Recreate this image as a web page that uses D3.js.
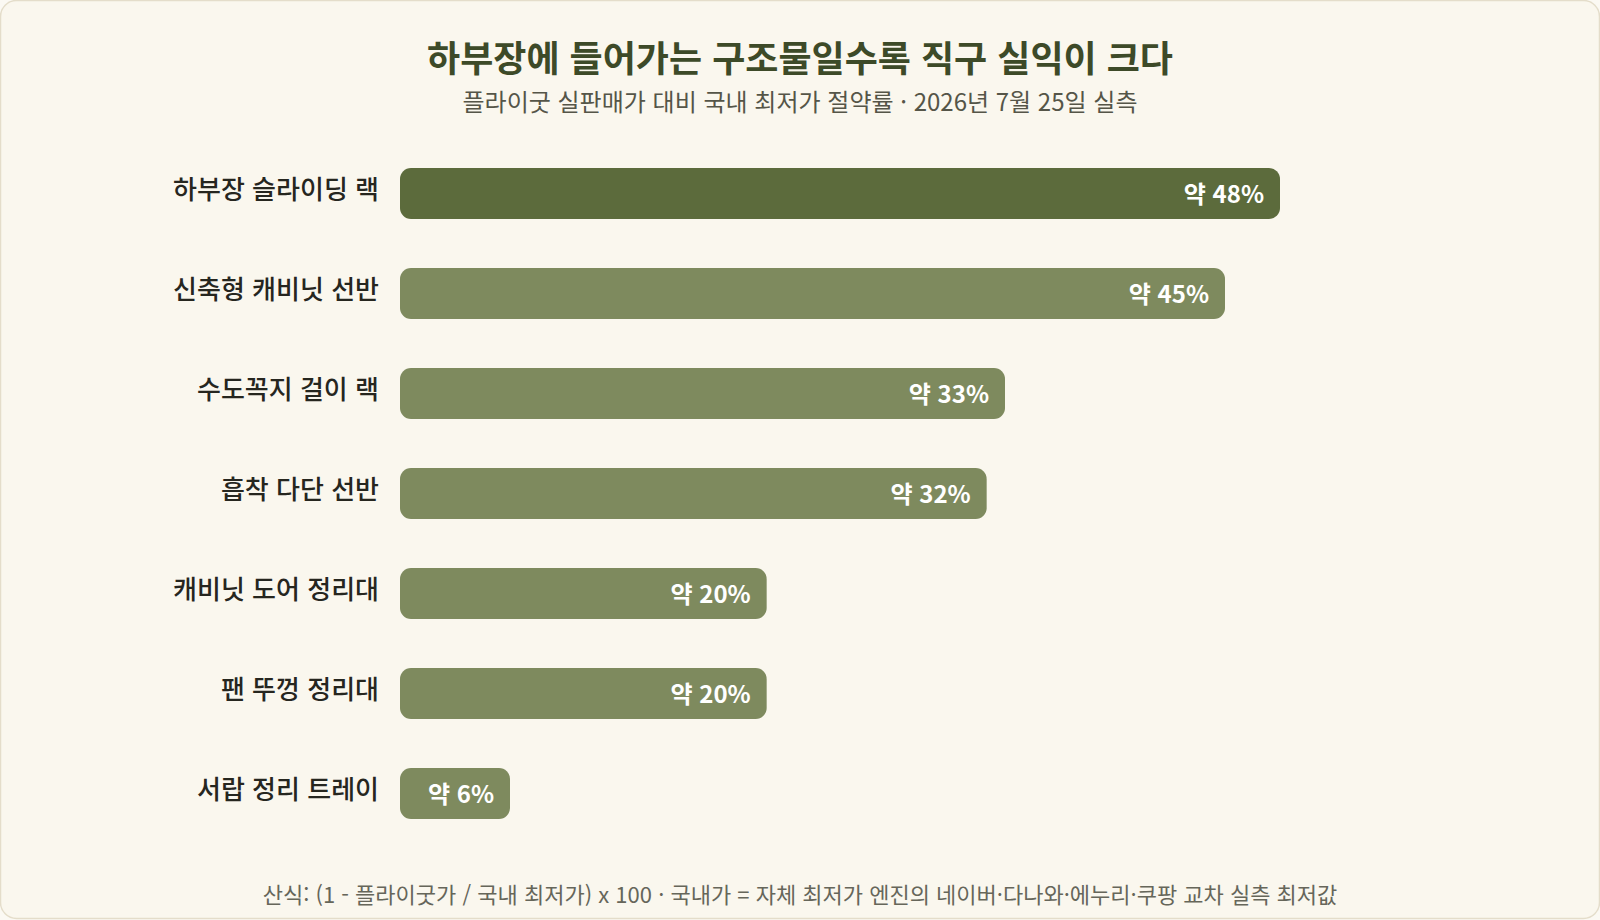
<!DOCTYPE html>
<html lang="ko">
<head>
<meta charset="utf-8">
<script src="https://cdn.jsdelivr.net/npm/d3@7"></script>
<style>
  html, body { margin: 0; padding: 0; background: #fbf9f3; }
  svg { display: block; font-family: "Noto Sans CJK KR", "Noto Sans", sans-serif; }
</style>
</head>
<body>
<script>
// data
var categories = ["하부장 슬라이딩 랙", "신축형 캐비닛 선반", "수도꼭지 걸이 랙", "흡착 다단 선반", "캐비닛 도어 정리대", "팬 뚜껑 정리대", "서랍 정리 트레이"];
var savings = [48, 45, 33, 32, 20, 20, 6];
var valueLabels = ["약 48%", "약 45%", "약 33%", "약 32%", "약 20%", "약 20%", "약 6%"];

var titleText = "하부장에 들어가는 구조물일수록 직구 실익이 크다";
var subtitleText = "플라이굿 실판매가 대비 국내 최저가 절약률 · 2026년 7월 25일 실측";
var footnoteText = "산식: (1 - 플라이굿가 / 국내 최저가) x 100 · 국내가 = 자체 최저가 엔진의 네이버·다나와·에누리·쿠팡 교차 실측 최저값";

var width = 1600, height = 920;

var svg = d3.select("body").append("svg")
    .attr("width", width)
    .attr("height", height);

// card background
svg.append("rect")
    .attr("x", 0.5).attr("y", 0.5)
    .attr("width", width - 1).attr("height", height - 2)
    .attr("rx", 16)
    .attr("fill", "#faf7ee")
    .attr("stroke", "#e4ddca")
    .attr("stroke-width", 1.5);

// title + subtitle
svg.append("text")
    .attr("x", width / 2).attr("y", 72)
    .attr("text-anchor", "middle")
    .attr("font-size", 36).attr("font-weight", 700)
    .attr("fill", "#3d4a28")
    .text(titleText);

svg.append("text")
    .attr("x", width / 2).attr("y", 111)
    .attr("text-anchor", "middle")
    .attr("font-size", 24)
    .attr("fill", "#555548")
    .text(subtitleText);

// scales
var xScale = d3.scaleLinear()
    .domain([0, 48])
    .range([400, 1280]);

var yScale = d3.scaleBand()
    .domain(categories)
    .range([143.5, 843.5])
    .paddingInner(0.49)
    .paddingOuter(0.245);

var rows = svg.append("g").selectAll("g")
    .data(savings)
    .enter()
    .append("g");

// bars - first one is highlighted darker
rows.append("rect")
    .attr("x", xScale(0))
    .attr("y", (d, i) => yScale(categories[i]))
    .attr("width", d => xScale(d) - xScale(0))
    .attr("height", yScale.bandwidth())
    .attr("rx", 11)
    .attr("fill", (d, i) => i === 0 ? "#5c6b3c" : "#7e8a5e");

// category labels on the left
rows.append("text")
    .attr("x", xScale(0) - 21)
    .attr("y", (d, i) => yScale(categories[i]) + yScale.bandwidth() / 2 - 4)
    .attr("dy", "0.35em")
    .attr("text-anchor", "end")
    .attr("font-size", 26).attr("font-weight", 500)
    .attr("fill", "#26261f")
    .text((d, i) => categories[i]);

// value labels inside bar end
rows.append("text")
    .attr("x", d => xScale(d) - 16)
    .attr("y", (d, i) => yScale(categories[i]) + yScale.bandwidth() / 2 + 1)
    .attr("dy", "0.35em")
    .attr("text-anchor", "end")
    .attr("font-size", 24).attr("font-weight", 700)
    .attr("fill", "#ffffff")
    .text((d, i) => valueLabels[i]);

// footnote
svg.append("text")
    .attr("x", width / 2).attr("y", 903)
    .attr("text-anchor", "middle")
    .attr("font-size", 22)
    .attr("fill", "#66665a")
    .text(footnoteText);
</script>
</body>
</html>
